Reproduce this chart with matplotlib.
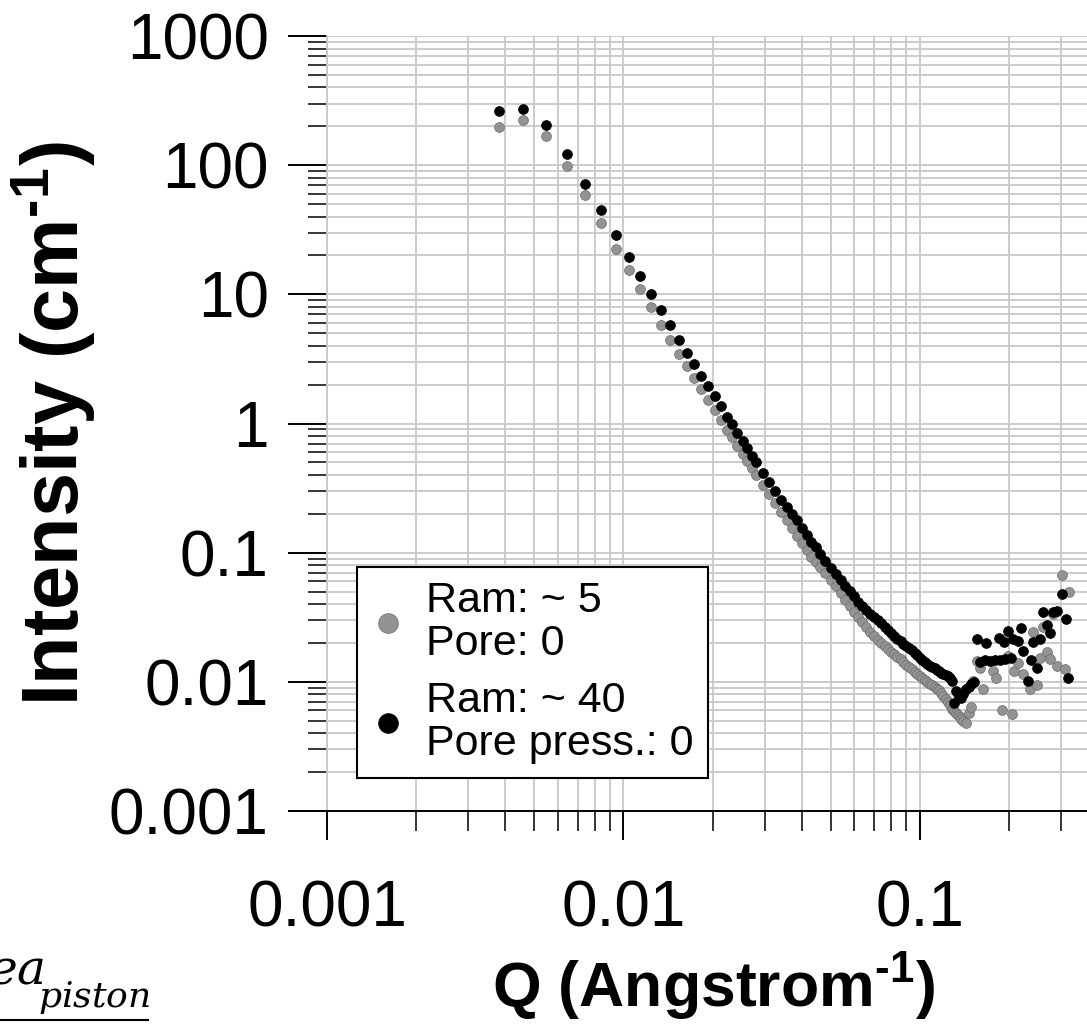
import numpy as np
import matplotlib
matplotlib.use("Agg")
import matplotlib.pyplot as plt
from matplotlib.lines import Line2D
from matplotlib.ticker import FixedLocator, NullFormatter

plt.rcParams.update({
    "font.family": "Liberation Sans",
    "mathtext.fontset": "custom",
    "mathtext.rm": "Liberation Sans:bold",
    "mathtext.bf": "Liberation Sans:bold",
    "mathtext.it": "DejaVu Serif:italic",
})

# shared Q values (Angstrom^-1) up to the minimum
q_common = [0.0038, 0.00457, 0.00546, 0.00643, 0.00743, 0.00841, 0.00944, 0.0104, 0.0114, 0.0124,
            0.01335, 0.01435, 0.01535, 0.01637, 0.01733, 0.0183, 0.0193, 0.02035, 0.02127, 0.02228,
            0.02328, 0.0242, 0.02523, 0.02616, 0.0271,
            0.028, 0.0295, 0.031, 0.0325, 0.034, 0.0355, 0.037, 0.0385, 0.040, 0.0415, 0.043, 0.0445, 0.046,
            0.048, 0.050, 0.052, 0.054, 0.056, 0.058, 0.060, 0.062, 0.064, 0.066, 0.068, 0.070,
            0.072, 0.074, 0.076, 0.078, 0.080, 0.082, 0.084, 0.086, 0.088, 0.090, 0.092, 0.094,
            0.096, 0.098, 0.100, 0.102, 0.104, 0.106, 0.108, 0.110, 0.112, 0.114, 0.116, 0.118,
            0.120, 0.122, 0.124, 0.126, 0.128, 0.130, 0.132, 0.134]

# Ram ~5, pore 0 (grey)
i_ram5 = [197, 224, 168, 98.8, 58.5, 35.5, 22.6, 15.3, 10.9, 8.03,
          5.82, 4.46, 3.47, 2.77, 2.26, 1.84, 1.53, 1.28, 1.07, 0.898,
          0.783, 0.675, 0.582, 0.517, 0.450,
          0.402, 0.337, 0.284, 0.242, 0.207, 0.179, 0.155, 0.135, 0.119, 0.105, 0.0926, 0.0846, 0.0773,
          0.0690, 0.0618, 0.0548, 0.0485, 0.0433, 0.0386, 0.0348, 0.0317, 0.0289, 0.0265, 0.0245, 0.0226,
          0.0211, 0.0200, 0.0189, 0.0180, 0.0171, 0.0163, 0.0156, 0.0149, 0.0142, 0.0136, 0.0130, 0.0125,
          0.0120, 0.0116, 0.0111, 0.0107, 0.0104, 0.0100, 0.00967, 0.00938, 0.00911, 0.00886, 0.00861, 0.00823,
          0.00776, 0.00733, 0.00694, 0.00657, 0.00621, 0.00591, 0.00571, 0.00552]
q_ram5_tail = [0.136, 0.138, 0.140, 0.143, 0.146, 0.149, 0.1510, 0.1553, 0.1594, 0.1627, 0.1767, 0.1800,
               0.1886, 0.1961, 0.1985, 0.2039, 0.2080, 0.2146, 0.2231, 0.2350, 0.2399, 0.2474, 0.2539,
               0.2605, 0.2676, 0.2745, 0.2815, 0.2891, 0.3005, 0.3083, 0.3181]
i_ram5_tail = [0.00534, 0.00517, 0.00498, 0.00481, 0.00575, 0.00640, 0.0102, 0.0146, 0.0128, 0.00887, 0.0122,
               0.0108, 0.00603, 0.0220, 0.0159, 0.00562, 0.0122, 0.0141, 0.0116, 0.00878, 0.0241, 0.00948,
               0.0154, 0.0264, 0.0169, 0.0150, 0.0335, 0.0133, 0.0675, 0.0125, 0.0492]

# Ram ~40, pore pressure 0 (black)
i_ram40 = [264, 273, 205, 123, 72.1, 44.8, 28.8, 19.4, 13.8, 10.1,
           7.52, 5.75, 4.40, 3.53, 2.87, 2.33, 1.94, 1.62, 1.36, 1.13,
           0.995, 0.847, 0.729, 0.648, 0.565,
           0.499, 0.416, 0.353, 0.300, 0.257, 0.227, 0.201, 0.178, 0.156, 0.137, 0.122, 0.110, 0.0975,
           0.0867, 0.0755, 0.0679, 0.0612, 0.0554, 0.0502, 0.0458, 0.0418, 0.0384, 0.0358, 0.0337, 0.0317,
           0.0299, 0.0283, 0.0267, 0.0253, 0.0240, 0.0228, 0.0216, 0.0206, 0.0198, 0.0191, 0.0183, 0.0176,
           0.0168, 0.0161, 0.0153, 0.0148, 0.0143, 0.0138, 0.0133, 0.0130, 0.0127, 0.0124, 0.0121, 0.0118,
           0.0115, 0.0112, 0.0110, 0.0108, 0.0102, 0.00687, 0.00852, 0.00807]
q_ram40_tail = [0.136, 0.138, 0.140, 0.143, 0.146, 0.149, 0.152, 0.1553, 0.1594, 0.1657, 0.1670, 0.1722,
                0.1791, 0.1846, 0.1861, 0.1919, 0.1935, 0.1985, 0.2027, 0.2064, 0.2146, 0.2186, 0.2231,
                0.2307, 0.2367, 0.2410, 0.2487, 0.2539, 0.2605, 0.2676, 0.2745, 0.2815, 0.2891, 0.3005,
                0.3100, 0.3164]
i_ram40_tail = [0.00765, 0.00752, 0.00807, 0.00883, 0.00914, 0.00965, 0.0100, 0.0214, 0.0143, 0.0147, 0.0201,
                0.0146, 0.0148, 0.0218, 0.0147, 0.0202, 0.0150, 0.0248, 0.0153, 0.0214, 0.0208, 0.0261,
                0.0174, 0.0102, 0.0148, 0.0202, 0.0129, 0.0214, 0.0345, 0.0275, 0.0238, 0.0345, 0.0355,
                0.0478, 0.0306, 0.0107]

labels = ["Ram: ~ 5\nPore: 0", "Ram: ~ 40\nPore press.: 0"]
y_ticks = [0.001, 0.01, 0.1, 1, 10, 100, 1000]
y_ticklabels = ["0.001", "0.01", "0.1", "1", "10", "100", "1000"]
x_ticks = [0.001, 0.01, 0.1]
x_ticklabels = ["0.001", "0.01", "0.1"]

q5 = np.array(q_common + q_ram5_tail)
I5 = np.array(i_ram5 + i_ram5_tail)
q40 = np.array(q_common + q_ram40_tail)
I40 = np.array(i_ram40 + i_ram40_tail)

GRID = "#c8c8c8"
GREY, GREY_EDGE = "#939393", "#6c6c6c"
W, H = 1087, 1024
fig = plt.figure(figsize=(W / 100, H / 100), dpi=100)
ax = fig.add_axes([327 / W, 213 / H, 760 / W, 775 / H])
ax.set_xscale("log"); ax.set_yscale("log")
ax.set_xlim(0.001, 0.366); ax.set_ylim(0.001, 1000)

ax.plot(q5, I5, "o", ls="none", ms=7.1, mfc=GREY, mec=GREY_EDGE, mew=0.5, zorder=3)
ax.plot(q40, I40, "o", ls="none", ms=7.1, mfc="black", mec="black", mew=0.5, zorder=4)

# axes furniture
ax.set_axisbelow(True)
ax.grid(True, which="both", color=GRID, lw=1.3)
for s in ("top", "right"):
    ax.spines[s].set_visible(False)
ax.spines["left"].set_color(GRID); ax.spines["left"].set_linewidth(1.3)
ax.spines["bottom"].set_linewidth(1.4)
ax.plot([-39 / 760, 0], [0, 0], transform=ax.transAxes, color="black", lw=1.4,
        clip_on=False, solid_capstyle="butt")

ax.yaxis.set_major_locator(FixedLocator(y_ticks))
ax.set_yticklabels(y_ticklabels)
ax.yaxis.set_minor_locator(FixedLocator([m * 10.0 ** e for e in range(-3, 3) for m in range(2, 10)]))
ax.xaxis.set_major_locator(FixedLocator(x_ticks))
ax.set_xticklabels(x_ticklabels)
ax.xaxis.set_minor_locator(FixedLocator([m * 10.0 ** e for e in range(-3, 0) for m in range(2, 10)]))
ax.yaxis.set_minor_formatter(NullFormatter()); ax.xaxis.set_minor_formatter(NullFormatter())
ax.tick_params(axis="y", which="major", direction="out", length=28, width=1.4, pad=14,
               labelsize=46, color="black")
ax.tick_params(axis="y", which="minor", direction="out", length=13.7, width=1.1, color="black")
ax.tick_params(axis="x", which="major", direction="out", length=21, width=1.4, pad=28, labelsize=46)
ax.tick_params(axis="x", which="minor", direction="out", length=14.4, width=1.1)

handles = [Line2D([], [], ls="none", marker="o", ms=7.1, mfc=GREY, mec=GREY_EDGE, mew=0.5),
           Line2D([], [], ls="none", marker="o", ms=7.1, mfc="black", mec="black", mew=0.5)]
leg = ax.legend(handles, labels, loc="lower left", bbox_to_anchor=(30 / 760, 33 / 775),
                fontsize=31, frameon=True, fancybox=False, borderpad=0.33, handlelength=0.78,
                handletextpad=0.5, labelspacing=0.38, borderaxespad=0, markerscale=2.0)
leg.get_frame().set_edgecolor("black"); leg.get_frame().set_linewidth(1.5)
leg.get_frame().set_alpha(1)
for t in leg.get_texts():
    t.set_linespacing(1.1)

fig.text(53.5 / W, 1 - 424 / H, r"Intensity (cm$^{\text{-1}}$)", rotation=90, ha="center",
         va="center", fontsize=57, fontweight="bold")
fig.text(713 / W, 38 / H, r"Q (Angstrom$^{\text{-1}}$)", ha="center", va="center",
         fontsize=45, fontweight="bold")

# fragment of a neighbouring equation at the lower-left edge
fig.text(-12 / W, 1 - 984 / H, r"$ea$", ha="left", va="baseline", fontsize=35)
fig.text(38 / W, 1 - 1007 / H, r"$piston$", ha="left", va="baseline", fontsize=26)
fig.add_artist(Line2D([0, 148 / W], [1 - 1020 / H] * 2, color="black", lw=1.5))

fig.savefig("out.png", dpi=100)
